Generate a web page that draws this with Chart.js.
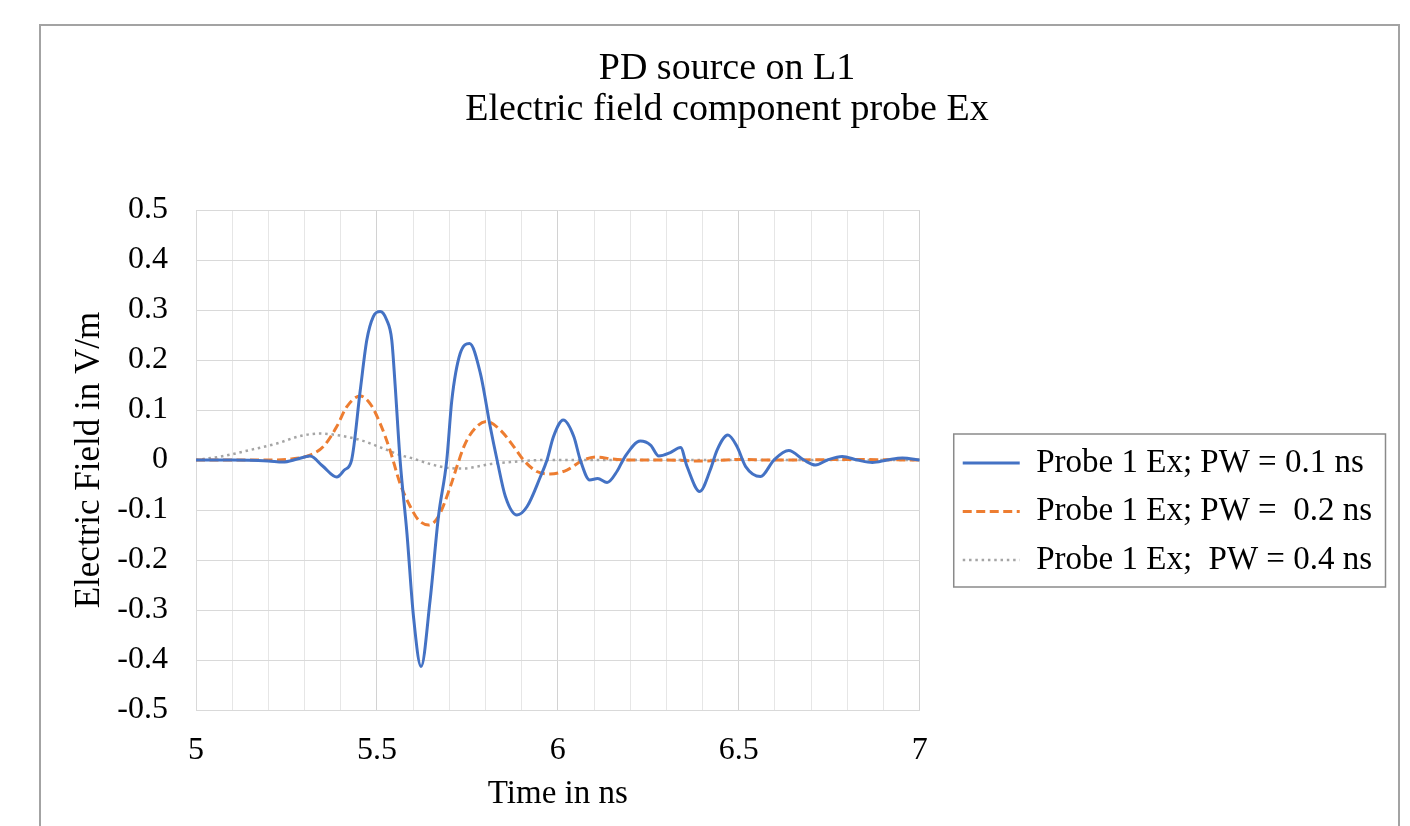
<!DOCTYPE html>
<html><head><meta charset="utf-8">
<script src="https://cdn.jsdelivr.net/npm/chart.js@4/dist/chart.umd.min.js"></script>
<style>html,body{margin:0;padding:0;background:#fff}#wrap{width:1410px;height:826px;position:relative}</style>
</head><body><div id="wrap"><canvas id="c"></canvas></div>
<script>
const titleLines = ['PD source on L1', 'Electric field component probe Ex'];
const xTitle = 'Time in ns';
const yTitle = 'Electric Field in V/m';
const seriesNames = ['Probe 1 Ex; PW = 0.1 ns', 'Probe 1 Ex; PW =  0.2 ns', 'Probe 1 Ex;  PW = 0.4 ns'];

const xGridValues = [5.0,5.1,5.2,5.3,5.4,5.5,5.6,5.7,5.8,5.9,6.0,6.1,6.2,6.3,6.4,6.5,6.6,6.7,6.8,6.9,7.0];
const xLabelValues = [5, 5.5, 6, 6.5, 7];
const xLabelTexts = ['5', '5.5', '6', '6.5', '7'];
const yTickValues = [-0.5,-0.4,-0.3,-0.2,-0.1,0,0.1,0.2,0.3,0.4,0.5];
const yTickLabels = ['-0.5','-0.4','-0.3','-0.2','-0.1','0','0.1','0.2','0.3','0.4','0.5'];

// Probe 1 Ex, PW = 0.1 ns
const blueT = [5.00,5.10,5.20,5.24,5.28,5.315,5.35,5.389,5.41,5.43,5.454,5.472,5.49,5.509,5.527,5.541,5.55,5.564,5.583,5.601,5.622,5.647,5.670,5.693,5.707,5.730,5.756,5.786,5.813,5.832,5.855,5.887,5.915,5.952,5.970,5.988,6.015,6.044,6.062,6.088,6.11,6.136,6.164,6.184,6.228,6.256,6.279,6.311,6.339,6.357,6.392,6.421,6.44,6.47,6.495,6.519,6.56,6.597,6.638,6.68,6.712,6.745,6.786,6.828,6.869,6.91,6.952,7.0];
const blueV = [0,0,-0.002,-0.004,0.002,0.008,-0.012,-0.034,-0.02,0.0,0.14,0.24,0.287,0.297,0.28,0.24,0.153,0.0,-0.147,-0.313,-0.413,-0.28,-0.113,0.0,0.12,0.213,0.233,0.173,0.067,0.0,-0.073,-0.11,-0.093,-0.033,0.0,0.047,0.08,0.047,0.0,-0.04,-0.037,-0.045,-0.022,0.005,0.038,0.03,0.008,0.015,0.025,-0.013,-0.063,-0.02,0.02,0.05,0.027,-0.013,-0.033,0.0,0.019,0.0,-0.01,0.0,0.007,0.0,-0.005,0.0,0.004,0.0];

// Probe 1 Ex, PW = 0.2 ns
const orangeT = [5.00,5.10,5.20,5.26,5.315,5.352,5.389,5.417,5.454,5.481,5.509,5.536,5.564,5.592,5.615,5.643,5.670,5.703,5.721,5.744,5.776,5.804,5.841,5.878,5.905,5.942,5.979,6.025,6.071,6.108,6.15,6.2,6.3,6.4,6.5,6.6,6.8,7.0];
const orangeV = [0,0,0,0.002,0.01,0.027,0.067,0.107,0.128,0.113,0.073,0.02,-0.047,-0.093,-0.12,-0.13,-0.113,-0.053,-0.013,0.033,0.067,0.077,0.06,0.027,0.0,-0.023,-0.028,-0.02,0.0,0.006,0.002,0.0,0.0,-0.002,0.001,0.0,0.001,0.0];

// Probe 1 Ex, PW = 0.4 ns
const grayT = [5.00,5.076,5.149,5.223,5.288,5.34,5.389,5.454,5.518,5.564,5.60,5.647,5.70,5.74,5.777,5.822,5.869,5.96,6.1,6.5,7.0];
const grayV = [0,0.008,0.02,0.033,0.048,0.053,0.05,0.04,0.023,0.01,0.003,-0.008,-0.016,-0.017,-0.013,-0.007,-0.004,0.0,0.0,0.0,0.0];

const SERIF = "'Liberation Serif', 'Times New Roman', serif";
const toXY = (ts, vs) => ts.map((t, i) => ({x: t, y: vs[i]}));

const framePlugin = {
  id: 'frame',
  beforeDraw(chart) {
    const c = chart.ctx;
    c.save();
    c.fillStyle = '#ffffff';
    c.fillRect(0, 0, chart.width, chart.height);
    c.strokeStyle = '#a3a3a3';
    c.lineWidth = 2;
    c.strokeRect(40, 25, 1359, 900);
    c.restore();
  },
  afterDraw(chart) {
    const lg = chart.legend;
    const hb = lg && lg.legendHitBoxes;
    if (!hb || !hb.length) return;
    const c = chart.ctx;
    const left = hb[0].left - 9;
    const top = hb[0].top - 12.5;
    const right = Math.max(...hb.map(h => h.left + h.width)) + 13.5;
    const last = hb[hb.length - 1];
    const bottom = last.top + last.height + 10.5;
    c.save();
    c.strokeStyle = '#8a8a8a';
    c.lineWidth = 1.5;
    c.strokeRect(left, top, right - left, bottom - top);
    c.restore();
  }
};

new Chart(document.getElementById('c'), {
  type: 'line',
  data: {
    datasets: [
      {label: seriesNames[0], data: toXY(blueT, blueV), yAxisID: 'y', borderColor: '#4472C4', backgroundColor: '#4472C4', borderWidth: 3, pointRadius: 0, pointStyle: 'line', cubicInterpolationMode: 'monotone', fill: false},
      {label: seriesNames[1], data: toXY(orangeT, orangeV), yAxisID: 'y', borderColor: '#ED7D31', backgroundColor: '#ED7D31', borderWidth: 3, borderDash: [9, 4.5], pointRadius: 0, pointStyle: 'line', cubicInterpolationMode: 'monotone', fill: false},
      {label: seriesNames[2], data: toXY(grayT, grayV), yAxisID: 'y', borderColor: '#A5A5A5', backgroundColor: '#A5A5A5', borderWidth: 2.5, borderDash: [2.5, 3.8], pointRadius: 0, pointStyle: 'line', cubicInterpolationMode: 'monotone', fill: false}
    ]
  },
  options: {
    responsive: true,
    maintainAspectRatio: false,
    animation: false,
    layout: {padding: {left: 72, right: 28, top: 0, bottom: 0}},
    plugins: {
      title: {
        display: true, text: titleLines, color: '#000',
        font: {family: SERIF, size: 38, weight: 'normal', lineHeight: 1.08},
        padding: {top: 48.5, bottom: 79.5}
      },
      legend: {
        position: 'right', align: 'center', maxWidth: 600,
        title: {display: true, text: '', font: {size: 10, lineHeight: 1}, padding: {top: 187, bottom: 0}},
        labels: {
          usePointStyle: true, pointStyleWidth: 57, padding: 15.5, color: '#000',
          font: {family: SERIF, size: 33},
          generateLabels: chart => {
            const items = Chart.defaults.plugins.legend.labels.generateLabels(chart);
            return items.map(item => {
              const ds = chart.data.datasets[item.datasetIndex];
              item.lineDash = ds.borderDash || [];
              item.lineWidth = ds.borderWidth;
              item.strokeStyle = ds.borderColor;
              item.lineCap = 'butt';
              return item;
            });
          }
        }
      },
      tooltip: {enabled: false}
    },
    scales: {
      x: {
        type: 'linear', min: 5, max: 7,
        afterBuildTicks: s => { s.ticks = xGridValues.map(v => ({value: v})); },
        afterFit: s => { s.height = 116; },
        grid: {
          drawTicks: false, lineWidth: 1,
          color: ctx => {
            const v = ctx.tick ? ctx.tick.value : 0;
            return Math.abs(v * 2 - Math.round(v * 2)) < 1e-6 ? '#d2d2d2' : '#e6e6e6';
          }
        },
        border: {color: '#d9d9d9'},
        ticks: {
          autoSkip: false, maxRotation: 0, padding: 21, color: '#000',
          font: {family: SERIF, size: 32},
          callback: v => {
            const i = xLabelValues.findIndex(x => Math.abs(x - v) < 1e-6);
            return i >= 0 ? xLabelTexts[i] : '';
          }
        },
        title: {display: true, text: xTitle, color: '#000', font: {family: SERIF, size: 33, lineHeight: 1.2}, padding: {top: 0, bottom: 12}}
      },
      y: {
        type: 'linear', min: -0.5, max: 0.5, position: 'left',
        afterBuildTicks: s => { s.ticks = yTickValues.map(v => ({value: v})); },
        afterFit: s => { s.width = 124; },
        grid: {drawTicks: false, color: '#d9d9d9', lineWidth: 1},
        border: {color: '#d9d9d9'},
        ticks: {
          padding: 28, color: '#000', font: {family: SERIF, size: 32},
          callback: (v, i) => yTickLabels[i]
        },
        title: {display: true, text: yTitle, color: '#000', font: {family: SERIF, size: 35, lineHeight: 1}, padding: {top: 0, bottom: 0}}
      },
      yPad: {
        type: 'linear', position: 'right', display: true,
        grid: {display: false, drawTicks: false},
        border: {display: false},
        ticks: {display: false},
        afterFit: s => { s.width = 27.5; }
      }
    }
  },
  plugins: [framePlugin]
});
</script></body></html>
